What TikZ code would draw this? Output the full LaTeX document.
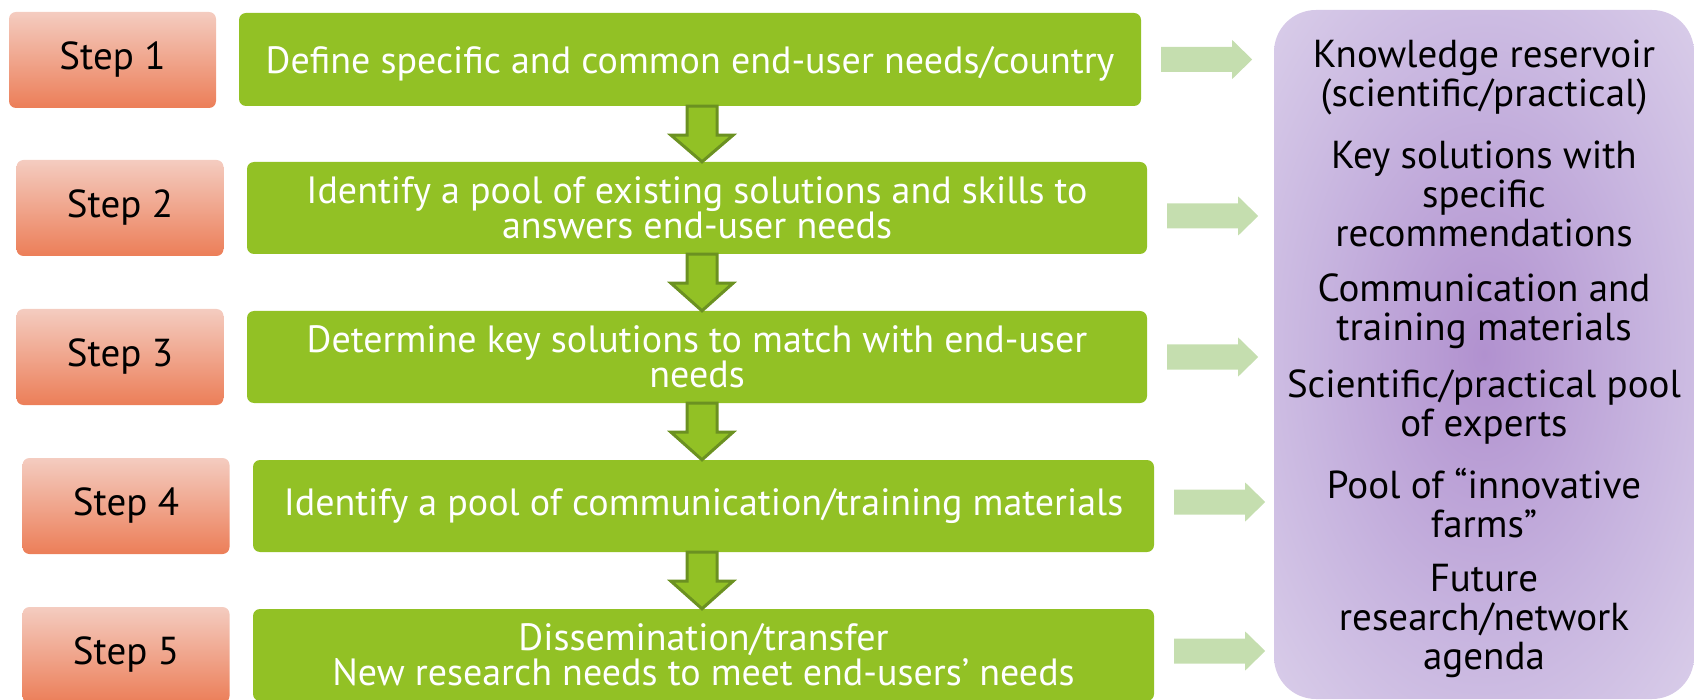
\documentclass[tikz,border=0pt]{standalone}
\usepackage{fontspec}
\setmainfont{PT Sans}
\usetikzlibrary{calc}

\definecolor{stepTop}{HTML}{F4CCC0}
\definecolor{stepBot}{HTML}{EC7E58}
\definecolor{taskGreen}{HTML}{92C125}
\definecolor{taskEdge}{HTML}{6B9121}
\definecolor{feedGreen}{HTML}{C5DEAF}
\definecolor{outCore}{HTML}{B191CF}
\definecolor{outMid}{HTML}{C7B4DF}
\definecolor{outRim}{HTML}{E5DEF0}

\pgfdeclareradialshading{outglow}{\pgfpoint{0bp}{0bp}}{%
  color(0bp)=(outCore); color(20bp)=(outMid); color(46bp)=(outRim); color(50bp)=(outRim)}

\tikzset{
  stepbox/.style={rounded corners=7pt, top color=stepTop, bottom color=stepBot,
    minimum width=207pt, minimum height=96pt, inner sep=0pt,
    font=\fontsize{39}{40}\selectfont, text=black},
  taskbox/.style={rounded corners=7pt, fill=taskGreen,
    minimum width=901pt, minimum height=93pt, inner sep=0pt,
    font=\fontsize{38}{35}\selectfont, text=white, align=center},
  outbox/.style={rounded corners=42pt, shading=outglow,
    minimum width=420pt, minimum height=689pt, inner sep=0pt},
  outtext/.style={align=center, inner sep=0pt, font=\fontsize{39}{39}\selectfont, text=black},
  downarrow/.style={fill=taskGreen, draw=taskEdge, line width=3pt, line join=miter},
  feedarrow/.style={fill=feedGreen},
}

% block arrow from one task box down to the next one
\newcommand\taskdown[2]{%
  \draw[downarrow] ($(col |- #1.south)+(-15,0)$) -- ($(col |- #1.south)+(15,0)$)
    -- ($(col |- #1.south)+(15,29)$) -- ($(col |- #1.south)+(31,29)$)
    -- (col |- #2.north)
    -- ($(col |- #1.south)+(-31,29)$) -- ($(col |- #1.south)+(-15,29)$) -- cycle;}

% pale block arrow from a task box towards the outcome panel
\newcommand\taskfeed[2]{%
  \path let \p1=($(#1.east)+(20,#2)$) in
    [feedarrow] (\x1,\y1+12.5) -- (\x1+71,\y1+12.5) -- (\x1+71,\y1+19.5)
    -- (\x1+91,\y1) -- (\x1+71,\y1-19.5) -- (\x1+71,\y1-12.5)
    -- (\x1,\y1-12.5) -- cycle;}

\begin{document}
\begin{tikzpicture}[x=1pt,y=-1pt]
  \useasboundingbox (0,0) rectangle (1694,700);
  \clip (0,0) rectangle (1694,700);

  % step labels
  \node[stepbox] (s1) at (112.5,60) {Step 1};
  \node[stepbox] (s2) at (120,208) {Step 2};
  \node[stepbox] (s3) at (120,357) {Step 3};
  \node[stepbox] (s4) at (126,506) {Step 4};
  \node[stepbox] (s5) at (126,655) {Step 5};

  % task boxes
  \node[taskbox, minimum width=902pt, text depth=0pt] (g1) at (690,59.5)
    {Define specific and common end-user needs/country};
  \node[taskbox, minimum width=900pt, minimum height=92pt] (g2) at (697,208)
    {Identify a pool of existing solutions and skills to\\answers end-user needs};
  \node[taskbox, minimum width=900pt, minimum height=92pt] (g3) at (697,357)
    {Determine key solutions to match with end-user\\needs};
  \node[taskbox, minimum height=92pt] (g4) at (703.5,506)
    {Identify a pool of communication/training materials};
  \node[taskbox, minimum height=92pt] (g5) at (703.5,655)
    {Dissemination/transfer\\New research needs to meet end-users’ needs};

  % outcome panel
  \node[outbox] (out) at (1484,354.5) {};
  \node[outtext] (o1) at (1484,77) {Knowledge reservoir\\(scientific/practical)};
  \node[outtext] (o2) at (1484,194) {Key solutions with\\specific\\recommendations};
  \node[outtext] (o3) at (1484,311) {Communication and\\training materials};
  \node[outtext] (o4) at (1484,407) {Scientific/practical pool\\of experts};
  \node[outtext] (o5) at (1484,503) {Pool of “innovative\\farms”};
  \node[outtext] (o6) at (1484,621) {Future\\research/network\\agenda};

  % flow between the tasks
  \coordinate (col) at (702,0);
  \taskdown{g1}{g2}
  \taskdown{g2}{g3}
  \taskdown{g3}{g4}
  \taskdown{g4}{g5}

  % feeds into the outcome panel
  \taskfeed{g1}{0}
  \taskfeed{g2}{8}
  \taskfeed{g3}{0}
  \taskfeed{g4}{-4}
  \taskfeed{g5}{-4}
\end{tikzpicture}
\end{document}
